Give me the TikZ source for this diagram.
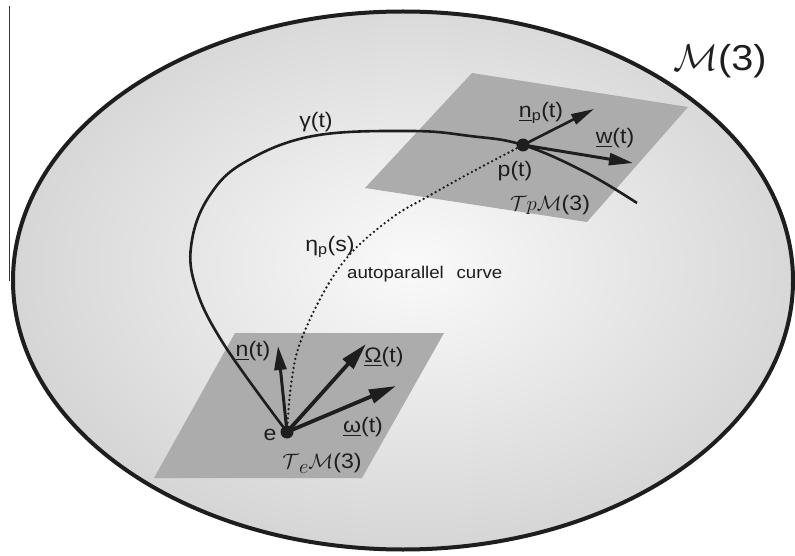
\documentclass[tikz,border=0pt]{standalone}
\usepackage{amsmath}
\usepackage{fontspec}
\setmainfont{Liberation Sans}[FakeStretch=1.1]
\usetikzlibrary{arrows.meta}
\definecolor{planegray}{RGB}{172,172,172}
\definecolor{ink}{RGB}{30,30,30}
\tikzset{
  lab/.style={inner sep=0pt, text=ink, font=\fontsize{21}{24}\selectfont},
  smalllab/.style={inner sep=0pt, text=ink, font=\fontsize{17}{20}\selectfont},
  curveline/.style={line width=2.6pt, draw=ink},
  dotline/.style={line width=2.6pt, draw=ink, line cap=round, dash pattern=on 0pt off 4.6pt},
  bigvec/.style={line width=3.8pt, draw=ink, -{Triangle[length=27pt,width=14pt]}},
  midvec/.style={line width=3pt, draw=ink, -{Triangle[length=24pt,width=12pt]}},
  smallvec/.style={line width=2.6pt, draw=ink, -{Triangle[length=23pt,width=11pt]}},
  pointdot/.style={circle, fill=ink, inner sep=0pt, minimum size=13pt},
  plane/.style={fill=planegray}
}
\begin{document}
\begin{tikzpicture}[x=1pt,y=-1pt]
\useasboundingbox (0,0) rectangle (795,556);
\fill[white] (0,0) rectangle (795,556);
% stray vertical line
\coordinate (vl1) at (9,6);
\coordinate (vl2) at (9,281);
\draw[line width=1pt, draw=black!80] (vl1) -- (vl2);
% manifold
\begin{scope}
\clip (403,280.5) ellipse [x radius=390, y radius=269];
\shade[inner color=gray!4, outer color=gray!33] (413,265) ellipse [x radius=410, y radius=290];
\end{scope}
\draw[line width=4pt, draw=ink] (403,280.5) ellipse [x radius=390, y radius=269];
% tangent planes
\fill[plane] (235,333) -- (444,333) -- (362,478) -- (154,478) -- cycle;
\fill[plane] (472,73) -- (688,107) -- (587,222) -- (365,188) -- cycle;
% points
\coordinate (e) at (287,432);
\coordinate (p) at (523,145);
\coordinate (gend) at (637,203);
% curves
\draw[curveline] plot[smooth, tension=0.65] coordinates {(e) (223,343) (195,285) (192,240) (210,195) (245,162) (313,136) (410,131) (470,136) (p) (585,172) (gend)};
\draw[dotline] plot[smooth, tension=0.6] coordinates {(e) (291,385) (300,343) (325,290) (352,252) (393,217) (427,197) (470,173) (p)};
% vectors at e
\coordinate (nt) at (278,346);
\coordinate (Om) at (366,344);
\coordinate (om) at (396,386);
\draw[midvec] (e) -- (nt);
\draw[bigvec] (e) -- (Om);
\draw[bigvec] (e) -- (om);
% vectors at p
\coordinate (npt) at (594,109);
\coordinate (wt) at (633,163);
\draw[smallvec] (p) -- (npt);
\draw[midvec] (p) -- (wt);
\node[pointdot] (edot) at (e) {};
\node[pointdot] (pdot) at (p) {};
% labels
\node[lab] (gl) at (316,122) {γ(t)};
\node[lab] (etal) at (330,247) {η$_{\text{p}}$(s)};
\node[smalllab, anchor=west] (apl) at (347,274) {autoparallel\hspace{0.75em}curve};
\node[lab] (nl) at (253,351) {\underline{n}(t)};
\node[lab] (Oml) at (384,357) {\underline{Ω}(t)};
\node[lab] (oml) at (363,427) {\underline{ω}(t)};
\node[lab] (el) at (270,435) {e};
\node[lab] (TeM) at (322,463) {$\mathcal{T}$\raisebox{-5pt}{$e$}$\mathcal{M}$(3)};
\node[lab] (npl) at (541,113) {\underline{n}$_{\text{p}}$(t)};
\node[lab] (wl) at (615,138) {\underline{w}(t)};
\node[lab] (pl) at (515,171) {p(t)};
\node[lab] (TpM) at (550,205) {$\mathcal{T}p\mathcal{M}$(3)};
\node[inner sep=0pt, text=ink, font=\fontsize{24}{28}\selectfont] (Ml) at (720,61) {\scalebox{1.5}{$\mathcal{M}$(3)}};
\end{tikzpicture}
\end{document}
